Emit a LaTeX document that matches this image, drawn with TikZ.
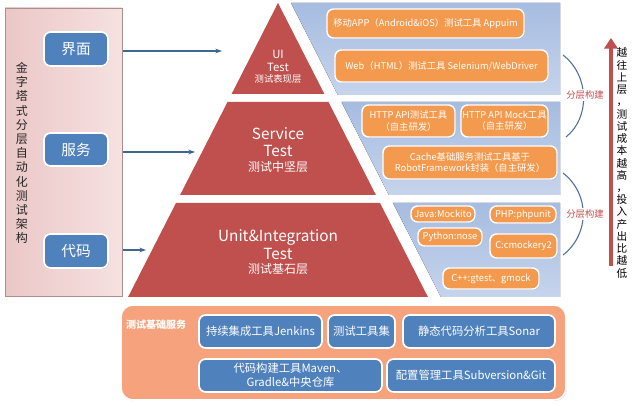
\documentclass[tikz,border=0pt]{standalone}
\usepackage{fontspec}
\setmainfont{Noto Sans CJK SC}
\usetikzlibrary{fit,arrows.meta,shadows}
\definecolor{pyr}{HTML}{C0504D}
\definecolor{bluebox}{HTML}{4F81BD}
\definecolor{orbox}{HTML}{F39A4E}
\definecolor{panelTop}{HTML}{A6BCE0}
\definecolor{panelBot}{HTML}{C6D4EC}
\definecolor{pinkL}{HTML}{EBC7C7}
\definecolor{pinkR}{HTML}{F6E1E1}
\definecolor{pinkEdge}{HTML}{A89090}
\definecolor{basecol}{HTML}{F6A27C}
\definecolor{arrowc}{HTML}{41668F}
\definecolor{arcc}{HTML}{4F6F99}
\begin{document}
\begin{tikzpicture}[x=0.75pt,y=-0.75pt,
  every node/.style={inner sep=0pt, outer sep=0pt},
  shd/.style={drop shadow={shadow xshift=0.7pt, shadow yshift=-0.7pt, opacity=0.3}},
  lbox/.style={shd, fill=bluebox, draw=white, line width=1.3pt, rounded corners=5pt},
  ltxt/.style={text=white, font=\fontsize{11}{13}\selectfont},
  obox/.style={shd, fill=orbox, draw=white, line width=1.1pt, rounded corners=5pt},
  otxt/.style={text=white, align=center, font=\fontsize{7}{8.6}\selectfont},
  stxt/.style={text=white, align=center, font=\fontsize{7}{8.6}\selectfont},
  bbox/.style={shd, fill=bluebox, draw=white, line width=1.3pt, rounded corners=5pt},
  btxt/.style={text=white, align=center, font=\fontsize{8.5}{10.5}\selectfont},
  ptxt/.style={text=white, font=\fontsize{11.5}{13}\selectfont},
  pcn/.style={text=white, font=\fontsize{8.5}{10}\selectfont},
  conn/.style={draw=arrowc, line width=0.8pt, -{Stealth[length=5pt,width=3.5pt]}},
  arcline/.style={draw=arcc, line width=0.8pt},
  archalo/.style={draw=white, line width=2.5pt},
  arclab/.style={text=pyr, fill=white, inner sep=1pt, font=\fontsize{7}{8}\selectfont}
]
\useasboundingbox (0,0) rectangle (640,406);
\fill[white] (0,0) rectangle (640,406);

% left panel
\node (pink) [fit={(5,8) (122,296)}, left color=pinkL, right color=pinkR, draw=pinkEdge, line width=0.6pt] {};
\node (vt) at (22,153) [align=center, font=\fontsize{9}{10.65}\selectfont, text=black!85] {金\\字\\塔\\式\\分\\层\\自\\动\\化\\测\\试\\架\\构};
\node (jm) [lbox, fit={(44,32) (108,66)}] {};
\node (fw) [lbox, fit={(44,133) (108,166)}] {};
\node (dm) [lbox, fit={(44,234) (108,268)}] {};
\node (jmt) at (jm) [ltxt] {界面};
\node (fwt) at (fw) [ltxt] {服务};
\node (dmt) at (dm) [ltxt] {代码};

% blue panels
\fill[top color=panelTop, bottom color=panelBot] (291,3) -- (560,3) -- (560,95) -- (337.9,95) -- cycle;
\fill[top color=panelTop, bottom color=panelBot] (341.5,102) -- (560,102) -- (560,195) -- (388.9,195) -- cycle;
\fill[top color=panelTop, bottom color=panelBot] (393,203) -- (560,203) -- (560,297) -- (440.9,297) -- cycle;

% pyramid
\fill[pyr] (278,3) -- (324.4,94) -- (231.6,94) -- cycle;
\fill[pyr] (227.5,102) -- (328.5,102) -- (375.9,195) -- (180.1,195) -- cycle;
\fill[pyr] (176,203) -- (380,203) -- (427.9,297) -- (128.1,297) -- cycle;

\node (u1) at (278,54) [pcn] {UI};
\node (u2) at (278,67) [pcn] {Test};
\node (u3) at (278,79) [text=white, font=\fontsize{7}{8}\selectfont] {测试表现层};
\node (s1) at (278,134) [ptxt] {Service};
\node (s2) at (278,151) [ptxt] {Test};
\node (s3) at (278,167) [text=white, font=\fontsize{9}{10}\selectfont] {测试中坚层};
\node (b1) at (278,237) [ptxt] {Unit\&Integration};
\node (b2) at (278,254) [ptxt] {Test};
\node (b3) at (278,269) [text=white, font=\fontsize{9}{10}\selectfont] {测试基石层};

% arrows from left panel
\coordinate (a1s) at (123,51); \coordinate (a1e) at (222,51);
\coordinate (a2s) at (123,152); \coordinate (a2e) at (195,152);
\coordinate (a3s) at (123,250); \coordinate (a3e) at (146,250);
\draw[conn] (a1s) -- (a1e);
\draw[conn] (a2s) -- (a2e);
\draw[conn] (a3s) -- (a3e);

% orange tool boxes
\node (o1) [obox, fit={(327,9) (524,38)}] {};
\node (o2) [obox, fit={(335,50) (548,82)}] {};
\node (o3) [obox, fit={(362,105) (455,137)}] {};
\node (o4) [obox, fit={(461,105) (548,137)}] {};
\node (o5) [obox, fit={(383,146) (557,179)}] {};
\node (o6) [obox, fit={(411,206) (475,222)}] {};
\node (o7) [obox, fit={(490,206) (556,223)}] {};
\node (o8) [obox, fit={(418,228) (482,246)}] {};
\node (o9) [obox, fit={(490,234) (557,258)}] {};
\node (o10) [obox, fit={(443,268) (539,289)}] {};
\node (o1t) at (o1) [otxt] {移动APP（Android\&iOS）测试工具 Appuim};
\node (o2t) at (o2) [otxt] {Web（HTML）测试工具 Selenium/WebDriver};
\node (o3t) at (o3) [otxt] {HTTP API测试工具\\（自主研发）};
\node (o4t) at (o4) [otxt] {HTTP API Mock工具\\（自主研发）};
\node (o5t) at (o5) [otxt] {Cache基础服务测试工具基于\\RobotFramework封装（自主研发）};
\node (o6t) at (o6) [stxt] {Java:Mockito};
\node (o7t) at (o7) [stxt] {PHP:phpunit};
\node (o8t) at (o8) [stxt] {Python:nose};
\node (o9t) at (o9) [stxt] {C:cmockery2};
\node (o10t) at (o10) [stxt] {C++:gtest、gmock};

% layered-build arcs
\coordinate (c1s) at (563,55); \coordinate (c1e) at (566,137);
\coordinate (c2s) at (563,173); \coordinate (c2e) at (563,255);
\draw[archalo] (c1s) .. controls (590,76) and (590,118) .. (c1e);
\draw[arcline] (c1s) .. controls (590,76) and (590,118) .. (c1e);
\draw[archalo] (c2s) .. controls (590,194) and (590,234) .. (c2e);
\draw[arcline] (c2s) .. controls (590,194) and (590,234) .. (c2e);
\node (l1) at (585,95) [arclab] {分层构建};
\node (l2) at (585,214) [arclab] {分层构建};

% red cost arrow
\coordinate (r1) at (611,266); \coordinate (r2) at (611,38);
\draw[pyr, line width=3pt, -{Triangle[width=10pt,length=8pt]}] (r1) -- (r2);
\node (rt) at (622,163) [align=center, font=\fontsize{8}{9.17}\selectfont, text=black] {越\\往\\上\\层\\，\\测\\试\\成\\本\\越\\高\\，\\投\\入\\产\\出\\比\\越\\低};

% bottom base services
\node (base) [fit={(121,305) (566,400)}, fill=basecol, draw=white, line width=1.2pt, rounded corners=9pt, shd] {};
\node (bt) at (126,325) [anchor=west, text=white, font=\bfseries\fontsize{7.5}{9}\selectfont] {测试基础服务};
\node (j1) [bbox, fit={(199,315) (322,348)}] {};
\node (j2) [bbox, fit={(328,315) (395,348)}] {};
\node (j3) [bbox, fit={(403,315) (555,348)}] {};
\node (j4) [bbox, fit={(199,359) (382,392)}] {};
\node (j5) [bbox, fit={(387,359) (555,392)}] {};
\node (j1t) at (j1) [btxt] {持续集成工具Jenkins};
\node (j2t) at (j2) [btxt] {测试工具集};
\node (j3t) at (j3) [btxt] {静态代码分析工具Sonar};
\node (j4t) at (j4) [btxt] {代码构建工具Maven、\\Gradle\&中央仓库};
\node (j5t) at (j5) [btxt] {配置管理工具Subversion\&Git};
\end{tikzpicture}
\end{document}
